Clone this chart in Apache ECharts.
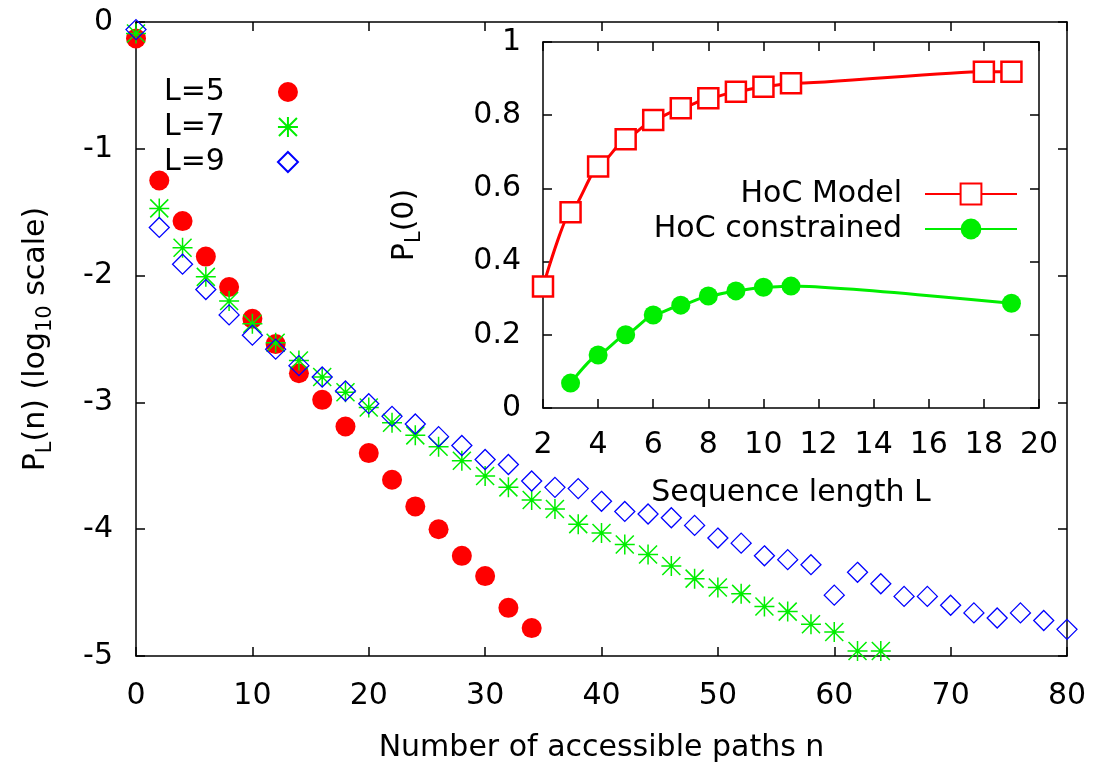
<!DOCTYPE html>
<html>
<head>
<meta charset="utf-8">
<script src="https://cdn.jsdelivr.net/npm/echarts@6/dist/echarts.min.js"></script>
<style>
	html, body { margin: 0; padding: 0; background: #fff; }
	#main { width: 1094px; height: 768px; }
</style>
</head>
<body>
<div id="main"></div>
<script>
let myChart
let chartOption;

// main plot: number of accessible paths n, log10 P_L(n)
const nL5 = [0, 2, 4, 6, 8, 10, 12, 14, 16, 18, 20, 22, 24, 26, 28, 30, 32, 34];
const pL5 = [-0.13, -1.25, -1.57, -1.85, -2.09, -2.34, -2.54, -2.77, -2.98, -3.19, -3.40, -3.61, -3.82, -4.00, -4.21, -4.37, -4.62, -4.78];

const nL7 = [0, 2, 4, 6, 8, 10, 12, 14, 16, 18, 20, 22, 24, 26, 28, 30, 32, 34, 36, 38, 40, 42, 44, 46, 48, 50, 52, 54, 56, 58, 60, 62, 64];
const pL7 = [-0.09, -1.47, -1.78, -2.01, -2.20, -2.38, -2.53, -2.67, -2.80, -2.92, -3.04, -3.16, -3.26, -3.35, -3.46, -3.58, -3.67, -3.77, -3.84, -3.96, -4.03, -4.12, -4.20, -4.29, -4.39, -4.46, -4.51, -4.61, -4.65, -4.75, -4.81, -4.96, -4.96];

const nL9 = [0, 2, 4, 6, 8, 10, 12, 14, 16, 18, 20, 22, 24, 26, 28, 30, 32, 34, 36, 38, 40, 42, 44, 46, 48, 50, 52, 54, 56, 58, 60, 62, 64, 66, 68, 70, 72, 74, 76, 78, 80];
const pL9 = [-0.06, -1.62, -1.91, -2.11, -2.31, -2.47, -2.58, -2.71, -2.80, -2.91, -3.01, -3.11, -3.17, -3.27, -3.34, -3.45, -3.49, -3.62, -3.67, -3.68, -3.78, -3.86, -3.88, -3.91, -3.97, -4.07, -4.11, -4.21, -4.24, -4.28, -4.52, -4.34, -4.43, -4.53, -4.53, -4.60, -4.66, -4.70, -4.66, -4.72, -4.79];

// inset: sequence length L, P_L(0)
const lenModel = [2, 3, 4, 5, 6, 7, 8, 9, 10, 11, 18, 19];
const pModel = [0.332, 0.535, 0.660, 0.734, 0.787, 0.819, 0.846, 0.864, 0.878, 0.887, 0.919, 0.919];
const lenCons = [3, 4, 5, 6, 7, 8, 9, 10, 11, 19];
const pCons = [0.068, 0.145, 0.200, 0.254, 0.281, 0.306, 0.320, 0.330, 0.333, 0.286];

const FONT = 'DejaVu Sans';

function pairs(xs, ys) {
	let out = [];
	for (let i = 0; i < xs.length; i++) {
		out.push([xs[i], ys[i]]);
	}
	return out;
}

// 轴的公共样式
function axisBase(gridIndex, position, min, max, interval, showLabel, margin) {
	return {
		type: 'value',
		gridIndex: gridIndex,
		position: position,
		min: min,
		max: max,
		interval: interval,
		splitLine: { show: false },
		axisLine: { show: true, onZero: false, lineStyle: { color: '#000', width: 1.5 } },
		axisTick: { show: true, inside: true, length: 9, lineStyle: { color: '#000', width: 1.5 } },
		axisLabel: {
			show: showLabel,
			margin: margin,
			color: '#000',
			fontFamily: FONT,
			fontSize: 30
		}
	};
}

function init() {
	var chartDom = document.getElementById('main');
	myChart = echarts.init(chartDom);

	let subRich = {
		n: { fontFamily: FONT, fontSize: 30, lineHeight: 40, color: '#000' },
		s: { fontFamily: FONT, fontSize: 21, lineHeight: 22, verticalAlign: 'bottom', color: '#000' }
	};

	let xMain = axisBase(0, 'bottom', 0, 80, 10, true, 25);
	xMain.name = 'Number of accessible paths n';
	xMain.nameLocation = 'middle';
	xMain.nameGap = 77;
	xMain.nameTextStyle = { fontFamily: FONT, fontSize: 30, color: '#000' };

	let yMain = axisBase(0, 'left', -5, 0, 1, true, 23);
	yMain.name = '{n|P}{s|L}{n|(n) (log}{s|10}{n| scale)}';
	yMain.nameLocation = 'middle';
	yMain.nameGap = 80;
	yMain.nameTextStyle = { rich: subRich };

	let xInset = axisBase(1, 'bottom', 2, 20, 2, true, 22);
	xInset.name = 'Sequence length L';
	xInset.nameLocation = 'middle';
	xInset.nameGap = 70;
	xInset.nameTextStyle = { fontFamily: FONT, fontSize: 30, color: '#000' };

	let yInset = axisBase(1, 'left', 0, 1, 0.2, true, 22);
	yInset.name = '{n|P}{s|L}{n|(0)}';
	yInset.nameLocation = 'middle';
	yInset.nameGap = 118;
	yInset.nameTextStyle = { rich: subRich };

	chartOption = {
		backgroundColor: '#fff',
		animation: false,
		textStyle: { fontFamily: FONT },
		grid: [
			{ left: 136, top: 22, width: 931, height: 642 },
			{ left: 543, top: 42, width: 496, height: 366 }
		],
		xAxis: [
			xMain,
			axisBase(0, 'top', 0, 80, 10, false, 8),
			xInset,
			axisBase(1, 'top', 2, 20, 2, false, 8)
		],
		yAxis: [
			yMain,
			axisBase(0, 'right', -5, 0, 1, false, 8),
			yInset,
			axisBase(1, 'right', 0, 1, 0.2, false, 8)
		],
		legend: [
			{
				data: ['L=5', 'L=7', 'L=9'],
				orient: 'vertical',
				align: 'right',
				left: 164,
				top: 77,
				padding: 0,
				itemWidth: 116,
				itemHeight: 20,
				itemGap: 5,
				textStyle: { fontFamily: FONT, fontSize: 30, color: '#000' }
			},
			{
				data: ['HoC Model', 'HoC constrained'],
				orient: 'vertical',
				align: 'right',
				right: 76,
				top: 179,
				padding: 0,
				itemWidth: 92,
				itemHeight: 26,
				itemGap: 5,
				textStyle: { fontFamily: FONT, fontSize: 30, color: '#000', padding: [0, 18, 0, 0] }
			}
		],
		series: [
			{
				name: 'L=5',
				type: 'scatter',
				xAxisIndex: 0,
				yAxisIndex: 0,
				symbol: 'circle',
				symbolSize: 20,
				itemStyle: { color: '#ff0000', opacity: 1 },
				data: pairs(nL5, pL5)
			},
			{
				name: 'L=7',
				type: 'scatter',
				xAxisIndex: 0,
				yAxisIndex: 0,
				symbol: 'path://M0,10L20,10M10,0L10,20M1,1L19,19M19,1L1,19',
				symbolSize: 20,
				symbolKeepAspect: true,
				itemStyle: { color: '#00ee00', borderColor: '#00ee00', borderWidth: 1.5, opacity: 1 },
				data: pairs(nL7, pL7)
			},
			{
				name: 'L=9',
				type: 'scatter',
				xAxisIndex: 0,
				yAxisIndex: 0,
				symbol: 'path://M10,0L20,10L10,20L0,10Z',
				symbolSize: 20,
				symbolKeepAspect: true,
				itemStyle: { color: 'rgba(0,0,0,0)', borderColor: '#0000ff', borderWidth: 1.3, opacity: 1 },
				data: pairs(nL9, pL9)
			},
			{
				name: 'HoC Model',
				type: 'line',
				xAxisIndex: 2,
				yAxisIndex: 2,
				smooth: 0.2,
				smoothMonotone: 'x',
				symbol: 'rect',
				symbolSize: 20,
				showAllSymbol: true,
				lineStyle: { color: '#ff0000', width: 3 },
				itemStyle: { color: '#fff', borderColor: '#ff0000', borderWidth: 2.5 },
				data: pairs(lenModel, pModel)
			},
			{
				name: 'HoC constrained',
				type: 'line',
				xAxisIndex: 2,
				yAxisIndex: 2,
				smooth: 0.2,
				smoothMonotone: 'x',
				symbol: 'circle',
				symbolSize: 19,
				showAllSymbol: true,
				lineStyle: { color: '#00ee00', width: 3 },
				itemStyle: { color: '#00ee00' },
				data: pairs(lenCons, pCons)
			}
		]
	};

	chartOption && myChart.setOption(chartOption);
}

init();
</script>
</body>
</html>
